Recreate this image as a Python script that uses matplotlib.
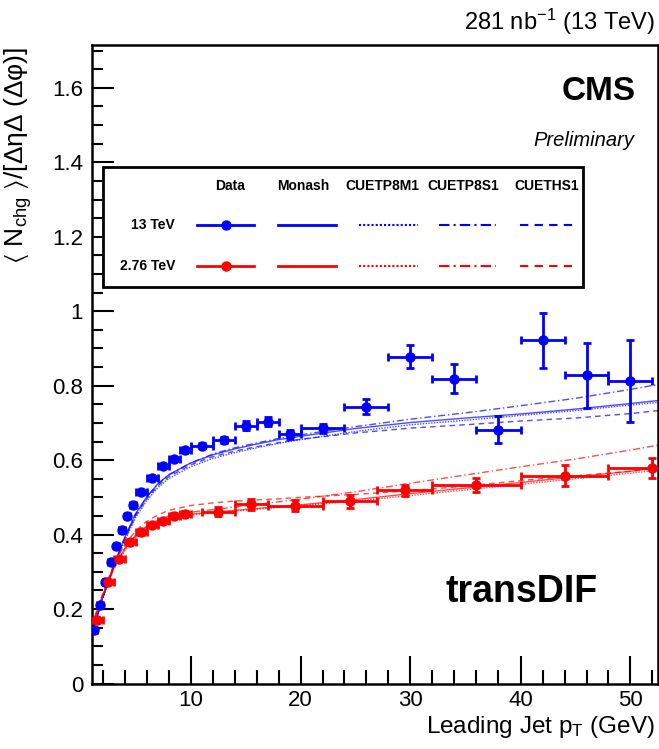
import matplotlib
matplotlib.use("Agg")
import matplotlib.pyplot as plt
from matplotlib.patches import Rectangle
from matplotlib.lines import Line2D
import numpy as np

plt.rcParams['font.family'] = ['Liberation Sans', 'DejaVu Sans']
plt.rcParams['mathtext.fontset'] = 'custom'
plt.rcParams['mathtext.rm'] = 'Liberation Sans'
plt.rcParams['mathtext.it'] = 'Liberation Sans:italic'
plt.rcParams['mathtext.bf'] = 'Liberation Sans:bold'
plt.rcParams['mathtext.fallback'] = 'stixsans'

# ---------------- data ----------------
# 13 TeV data
x13 = [1.25, 1.75, 2.25, 2.75, 3.25, 3.75, 4.25, 4.75, 5.5, 6.5, 7.5, 8.5, 9.5,
       11, 13, 15, 17, 19, 22, 26, 30, 34, 38, 42, 46, 50]
edges13 = [1, 1.5, 2, 2.5, 3, 3.5, 4, 4.5, 5, 6, 7, 8, 9, 10,
           12, 14, 16, 18, 20, 24, 28, 32, 36, 40, 44, 48, 52]
y13 = [0.143, 0.210, 0.272, 0.326, 0.368, 0.411, 0.450, 0.480, 0.514, 0.553, 0.583, 0.603, 0.627,
       0.639, 0.654, 0.692, 0.703, 0.670, 0.685, 0.744, 0.878, 0.819, 0.682, 0.922, 0.828, 0.813]
e13 = [0.004, 0.004, 0.004, 0.004, 0.004, 0.004, 0.004, 0.005, 0.005, 0.005, 0.005, 0.006, 0.006,
       0.007, 0.008, 0.012, 0.012, 0.012, 0.012, 0.021, 0.030, 0.040, 0.037, 0.074, 0.087, 0.110]

# 2.76 TeV data
x276 = [1.5, 2.5, 3.5, 4.5, 5.5, 6.5, 7.5, 8.5, 9.5, 12.5, 15.5, 19.5, 24.5, 29.5, 36, 44, 52]
edges276 = [1, 2, 3, 4, 5, 6, 7, 8, 9, 10, 11, 14, 17, 22, 27, 32, 40, 48, 56]
y276 = [0.170, 0.273, 0.335, 0.380, 0.406, 0.426, 0.437, 0.451, 0.456, 0.461, 0.481, 0.478,
        0.489, 0.519, 0.533, 0.558, 0.579]
e276 = [0.006, 0.006, 0.006, 0.006, 0.006, 0.006, 0.006, 0.006, 0.007, 0.012, 0.015, 0.015,
        0.018, 0.015, 0.018, 0.028, 0.028]

# MC predictions
xmc = [1, 2, 3, 4, 5, 6, 7, 8, 10, 12, 14, 16, 18, 20, 25, 30, 35, 40, 45, 50, 52.5]
mon13 = [0.130, 0.230, 0.315, 0.390, 0.455, 0.500, 0.535, 0.560, 0.592, 0.614, 0.630, 0.643, 0.655, 0.664, 0.685, 0.701, 0.713, 0.724, 0.737, 0.752, 0.760]
m1_13 = [0.130, 0.226, 0.308, 0.382, 0.445, 0.490, 0.525, 0.550, 0.582, 0.604, 0.620, 0.633, 0.645, 0.655, 0.677, 0.695, 0.707, 0.720, 0.733, 0.748, 0.755]
s1_13 = [0.130, 0.230, 0.315, 0.390, 0.455, 0.500, 0.535, 0.560, 0.592, 0.616, 0.633, 0.646, 0.658, 0.668, 0.690, 0.710, 0.727, 0.746, 0.766, 0.790, 0.803]
hs_13 = [0.130, 0.228, 0.312, 0.386, 0.450, 0.495, 0.530, 0.555, 0.587, 0.609, 0.624, 0.636, 0.647, 0.656, 0.673, 0.686, 0.695, 0.705, 0.713, 0.725, 0.733]

mon276 = [0.150, 0.235, 0.310, 0.360, 0.395, 0.420, 0.435, 0.445, 0.455, 0.460, 0.465, 0.470, 0.475, 0.480, 0.494, 0.510, 0.525, 0.540, 0.555, 0.570, 0.580]
m1_276 = [0.150, 0.232, 0.305, 0.355, 0.390, 0.415, 0.430, 0.440, 0.452, 0.458, 0.463, 0.468, 0.473, 0.478, 0.490, 0.505, 0.520, 0.535, 0.550, 0.565, 0.573]
s1_276 = [0.150, 0.235, 0.310, 0.362, 0.398, 0.423, 0.438, 0.450, 0.460, 0.467, 0.474, 0.481, 0.488, 0.495, 0.515, 0.538, 0.560, 0.582, 0.603, 0.627, 0.640]
hs_276 = [0.155, 0.240, 0.318, 0.372, 0.410, 0.435, 0.452, 0.465, 0.478, 0.485, 0.490, 0.493, 0.496, 0.500, 0.508, 0.518, 0.530, 0.545, 0.558, 0.570, 0.578]

legend_cols = ["Data", "Monash", "CUETP8M1", "CUETP8S1", "CUETHS1"]
legend_rows = ["13 TeV", "2.76 TeV"]

BLUE = '#0000ff'
RED = '#ff0000'

W, H = 659, 749
fig = plt.figure(figsize=(W / 100, H / 100), dpi=100)

def fx(px):
    return px / W

def fy(py):
    return 1 - py / H

ax = fig.add_axes([fx(91.5), fy(683.5), fx(658) - fx(91.5), fy(45) - fy(683.5)])
ax.set_xlim(1, 52.5)
ax.set_ylim(0, 1.715)

styles = ['-', (0, (1, 1)), (0, (5, 2, 1, 2)), (0, (4, 3))]
for col, curves in [(BLUE, [mon13, m1_13, s1_13, hs_13]), (RED, [mon276, m1_276, s1_276, hs_276])]:
    for ls, c in zip(styles, curves):
        ax.plot(xmc, c, color=col, lw=1.0, ls=ls, alpha=0.7, zorder=2)

# data with bin-width x errors
for xs, ys, es, ed, col in [(x13, y13, e13, edges13, BLUE), (x276, y276, e276, edges276, RED)]:
    ed = np.array(ed)
    lo_e = []
    hi_e = []
    for x in xs:
        i = np.searchsorted(ed, x) - 1
        lo_e.append(x - ed[i])
        hi_e.append(ed[i + 1] - x)
    ax.errorbar(xs, ys, yerr=es, xerr=[lo_e, hi_e], fmt='o', color=col, ms=6.5,
                elinewidth=2, capsize=3, capthick=2, zorder=4)

# axes style
for s in ['top', 'right', 'left', 'bottom']:
    ax.spines[s].set_linewidth(1.8)
ax.set_xticks([10, 20, 30, 40, 50])
ax.set_xticks(np.arange(2, 53, 2), minor=True)
ax.set_yticks([0, 0.2, 0.4, 0.6, 0.8, 1.0, 1.2, 1.4, 1.6])
ax.set_yticklabels(['0', '0.2', '0.4', '0.6', '0.8', '1', '1.2', '1.4', '1.6'])
ax.set_yticks(np.arange(0, 1.71, 0.05), minor=True)
ax.tick_params(axis='both', which='both', direction='in', labelsize=16, width=1.5,
               top=False, right=False)
ax.tick_params(axis='x', which='major', length=20, pad=5)
ax.tick_params(axis='x', which='minor', length=10)
ax.tick_params(axis='y', which='major', length=16, pad=6)
ax.tick_params(axis='y', which='minor', length=8)

# texts
fig.text(fx(655), fy(22), r"281 nb$^{-1}$ (13 TeV)", ha='right', va='center', fontsize=17)
fig.text(fx(655), fy(727), r"Leading Jet p$_{\rm T}$ (GeV)", ha='right', va='center', fontsize=17.5)
fig.text(fx(18), fy(47), r"$\langle$ N$_{\rm chg}$ $\rangle$/[ΔηΔ (Δφ)]", rotation=90,
         ha='center', va='top', fontsize=19)
fig.text(fx(636), fy(91), "CMS", ha='right', va='center', fontsize=24, fontweight='bold')
fig.text(fx(634), fy(140), "Preliminary", ha='right', va='center', fontsize=14.5, style='italic')
fig.text(fx(598), fy(592), "transDIF", ha='right', va='center', fontsize=27, fontweight='bold')

# legend box
fig.add_artist(Rectangle((fx(103), fy(287)), fx(583) - fx(103), fy(167) - fy(287),
                         transform=fig.transFigure, fill=True, facecolor='white',
                         edgecolor='black', lw=2, zorder=5))
col_x = [230, 303, 382, 463, 547]
for name, cx in zip(legend_cols, col_x):
    fig.text(fx(cx), fy(186), name, ha='center', va='center', fontsize=10, fontweight='bold', zorder=6)
row_y = [225, 266]
for name, ry in zip(legend_rows, row_y):
    fig.text(fx(175), fy(ry), name, ha='right', va='center', fontsize=10, fontweight='bold', zorder=6)
seg = [(197, 254), (278, 336), (359, 418), (439, 496), (520, 577)]
for ry, col in zip(row_y, [BLUE, RED]):
    for j, (a, b) in enumerate(seg):
        if j == 0:
            ln = Line2D([fx(a), fx(b)], [fy(ry), fy(ry)], transform=fig.transFigure,
                        color=col, lw=2, zorder=6)
            fig.add_artist(ln)
            mk = Line2D([fx((a + b) / 2)], [fy(ry)], transform=fig.transFigure, marker='o',
                        ms=6.5, color=col, zorder=7)
            fig.add_artist(mk)
        else:
            ln = Line2D([fx(a), fx(b)], [fy(ry), fy(ry)], transform=fig.transFigure,
                        color=col, lw=2 if j == 1 else 1.5, ls=styles[j - 1], zorder=6)
            fig.add_artist(ln)

fig.savefig("out.png", dpi=100)
